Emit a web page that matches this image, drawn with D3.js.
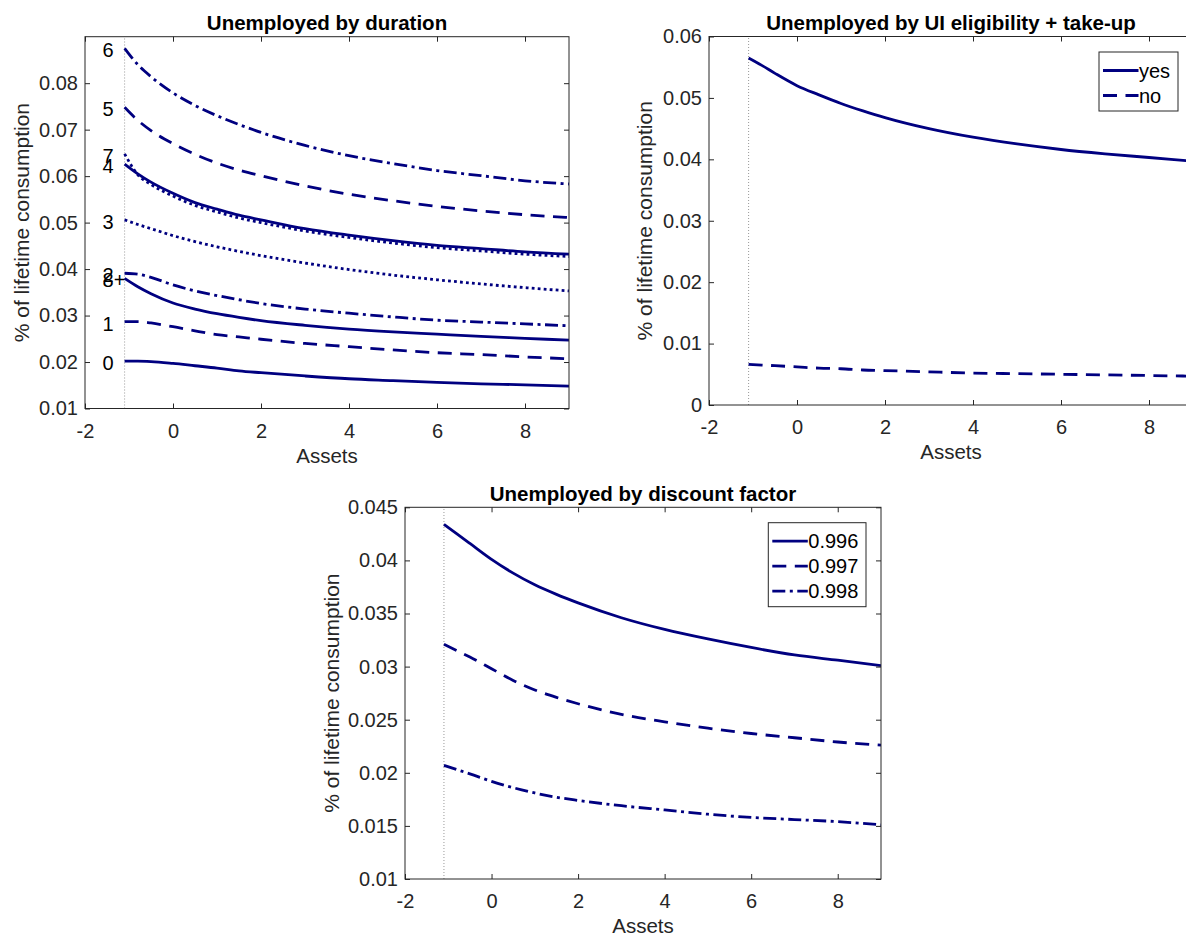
<!DOCTYPE html>
<html><head><meta charset="utf-8">
<script src="https://cdn.jsdelivr.net/npm/d3@7"></script>
<style>
body{margin:0;background:#fff}
svg{display:block}
text{font-family:"Liberation Sans",Arial,Helvetica,sans-serif}
</style>
</head><body>
<svg id="chart" width="1186" height="938"></svg>
<script>
// ---------- data ----------
const assets = [-1.1, -0.8, -0.5, 0, 0.5, 1, 1.5, 2, 3, 4, 5, 6, 7, 8, 9];

const durationLabels = ["0", "1", "2", "3", "4", "5", "6", "7", "8+"];
const dur0  = [0.0202,0.0202,0.0201,0.0197,0.0192,0.0187,0.0181,0.0177,0.0170,0.0164,0.0160,0.0156,0.0153,0.0151,0.0148];
const dur1  = [0.0287,0.0287,0.0284,0.0276,0.0267,0.0259,0.0254,0.0249,0.0240,0.0233,0.0226,0.0220,0.0216,0.0211,0.0207];
const dur2  = [0.0391,0.0389,0.0382,0.0366,0.0353,0.0343,0.0334,0.0326,0.0314,0.0305,0.0297,0.0290,0.0286,0.0282,0.0278];
const dur3  = [0.0506,0.0496,0.0487,0.0472,0.0459,0.0448,0.0438,0.0429,0.0413,0.0399,0.0387,0.0377,0.0368,0.0360,0.0353];
const dur4  = [0.0626,0.0605,0.0587,0.0563,0.0543,0.0529,0.0516,0.0506,0.0487,0.0473,0.0461,0.0451,0.0444,0.0437,0.0432];
const dur5  = [0.0748,0.0720,0.0698,0.0670,0.0647,0.0628,0.0613,0.0601,0.0579,0.0561,0.0547,0.0535,0.0525,0.0517,0.0511];
const dur6  = [0.0875,0.0840,0.0814,0.0779,0.0752,0.0730,0.0711,0.0694,0.0666,0.0644,0.0627,0.0612,0.0601,0.0590,0.0583];
const dur7  = [0.0648,0.0603,0.0582,0.0557,0.0537,0.0523,0.0510,0.0500,0.0482,0.0468,0.0456,0.0446,0.0439,0.0432,0.0427];
const dur8p = [0.0380,0.0362,0.0347,0.0327,0.0314,0.0304,0.0296,0.0289,0.0279,0.0271,0.0265,0.0260,0.0255,0.0251,0.0247];

const uiLabels = ["yes", "no"];
const uiYes = [0.0565,0.0553,0.0540,0.0520,0.0505,0.0491,0.0479,0.0468,0.0450,0.0436,0.0425,0.0416,0.0409,0.0403,0.0397];
const uiNo  = [0.0066,0.0065,0.0064,0.0062,0.0060,0.0059,0.0057,0.0056,0.0054,0.0052,0.0051,0.0050,0.0049,0.0048,0.0047];

const betaLabels = ["0.996", "0.997", "0.998"];
const beta996 = [0.0434,0.0425,0.0416,0.0401,0.0388,0.0377,0.0368,0.0360,0.0346,0.0335,0.0326,0.0318,0.0311,0.0306,0.0301];
const beta997 = [0.0321,0.0315,0.0309,0.0298,0.0287,0.0278,0.0271,0.0265,0.0255,0.0248,0.0242,0.0237,0.0233,0.0229,0.0226];
const beta998 = [0.0207,0.0203,0.0199,0.0192,0.0186,0.0181,0.0177,0.0174,0.0169,0.0165,0.0161,0.0158,0.0156,0.0154,0.0151];

const borrowingLimit = -1.1;
const labelX = -1.6;
const xDomain = [-2, 9];
const xTicks = [-2, 0, 2, 4, 6, 8];
const yTicksDuration = [0.01,0.02,0.03,0.04,0.05,0.06,0.07,0.08];
const yTicksUI = [0,0.01,0.02,0.03,0.04,0.05,0.06];
const yTicksBeta = [0.01,0.015,0.02,0.025,0.03,0.035,0.04,0.045];

// ---------- styles ----------
const NAVY = "#000080";
const AX = "#262626";
const LW = 2.8;
const styles = {
  solid: null,
  dashed: "14,8.5",
  dashdot: "13,4.5,3,4.5",
  dotted: "2.8,3.2"
};
const styleCycle = ["solid","dashed","dashdot","dotted"];
const fmt = d => String(+d.toFixed(3));

const svg = d3.select("#chart");
svg.append("rect").attr("width",1186).attr("height",938).attr("fill","#fff");

function panel(cfg) {
  const x = d3.scaleLinear().domain(xDomain).range([cfg.left, cfg.right]);
  const y = d3.scaleLinear().domain(cfg.yDomain).range([cfg.bottom, cfg.top]);
  const g = svg.append("g");
  const clipId = "clip" + cfg.id;
  svg.append("defs").append("clipPath").attr("id", clipId)
    .append("rect").attr("x", cfg.left).attr("y", cfg.top)
    .attr("width", cfg.right - cfg.left).attr("height", cfg.bottom - cfg.top);

  // borrowing limit line
  g.append("line")
    .attr("x1", x(borrowingLimit)).attr("x2", x(borrowingLimit))
    .attr("y1", cfg.bottom).attr("y2", cfg.top)
    .attr("stroke", "#999").attr("stroke-width", 1).attr("stroke-dasharray", "1,2");

  // series
  const line = d3.line().x((d, i) => x(assets[i])).y(d => y(d)).curve(d3.curveMonotoneX);
  const lg = g.append("g").attr("clip-path", `url(#${clipId})`);
  cfg.series.forEach((s, i) => {
    const st = styleCycle[i % 4];
    lg.append("path").datum(s.values)
      .attr("d", line).attr("fill", "none").attr("stroke", NAVY)
      .attr("stroke-width", LW).attr("stroke-dasharray", styles[st]);
  });

  // axes
  const styleAxis = sel => {
    sel.select(".domain").remove();
    sel.selectAll(".tick line").attr("stroke", AX).attr("stroke-width", 1);
    sel.selectAll(".tick text").attr("fill", AX).attr("font-size", 20)
      .attr("font-family", '"Liberation Sans",Arial,Helvetica,sans-serif');
    sel.attr("font-family", null).attr("font-size", null);
  };
  g.append("g").attr("transform", `translate(0,${cfg.bottom})`)
    .call(d3.axisBottom(x).tickValues(xTicks).tickSize(-5).tickPadding(15).tickFormat(fmt)).call(styleAxis);
  g.append("g").attr("transform", `translate(0,${cfg.top})`)
    .call(d3.axisTop(x).tickValues(xTicks).tickSize(-5).tickFormat("")).call(styleAxis);
  g.append("g").attr("transform", `translate(${cfg.left},0)`)
    .call(d3.axisLeft(y).tickValues(cfg.yTicks).tickSize(-5).tickPadding(7).tickFormat(fmt)).call(styleAxis);
  g.append("g").attr("transform", `translate(${cfg.right},0)`)
    .call(d3.axisRight(y).tickValues(cfg.yTicks).tickSize(-5).tickFormat("")).call(styleAxis);

  g.append("rect").attr("x", cfg.left).attr("y", cfg.top)
    .attr("width", cfg.right - cfg.left).attr("height", cfg.bottom - cfg.top)
    .attr("fill", "none").attr("stroke", AX).attr("stroke-width", 1);

  // labels
  g.append("text").attr("x", (cfg.left + cfg.right) / 2).attr("y", cfg.top - 6.5)
    .attr("text-anchor", "middle").attr("font-size", 20.5).attr("font-weight", "bold")
    .attr("fill", "#000").text(cfg.title);
  g.append("text").attr("x", (cfg.left + cfg.right) / 2).attr("y", cfg.bottom + 47)
    .attr("dy", "0.35em").attr("text-anchor", "middle").attr("font-size", 20.5)
    .attr("fill", AX).text("Assets");
  g.append("text")
    .attr("transform", `translate(${cfg.ylabelX},${(cfg.top + cfg.bottom) / 2}) rotate(-90)`)
    .attr("dy", "0.35em").attr("text-anchor", "middle").attr("font-size", 21)
    .attr("fill", AX).text("% of lifetime consumption");

  // inline labels
  if (cfg.inlineLabels) {
    cfg.series.forEach(s => {
      g.append("text").attr("x", x(labelX)).attr("y", y(s.values[0]) + 2)
        .attr("dy", "0.35em").attr("font-size", 20).attr("fill", "#000").text(s.label);
    });
  }

  // legend
  if (cfg.legend) {
    const L = cfg.legend;
    const n = cfg.series.length;
    const h = 18 + (n - 1) * 25 + 16;
    const lgG = g.append("g");
    lgG.append("rect").attr("x", L.right - L.width).attr("y", L.top)
      .attr("width", L.width).attr("height", h)
      .attr("fill", "#fff").attr("stroke", AX).attr("stroke-width", 1);
    cfg.series.forEach((s, i) => {
      const st = styleCycle[i % 4];
      const yy = L.top + 18.5 + i * 25;
      const x0 = L.right - L.width + 4;
      lgG.append("line").attr("x1", x0).attr("x2", x0 + 35.5).attr("y1", yy).attr("y2", yy)
        .attr("stroke", NAVY).attr("stroke-width", LW).attr("stroke-dasharray", styles[st]);
      lgG.append("text").attr("x", x0 + 36).attr("y", yy).attr("dy", "0.35em")
        .attr("font-size", 20).attr("fill", "#000").text(s.label);
    });
  }
}

const durValues = [dur0, dur1, dur2, dur3, dur4, dur5, dur6, dur7, dur8p];
panel({
  id: 1, left: 85, right: 569, top: 36.7, bottom: 408.5,
  yDomain: [0.01, 0.09], yTicks: yTicksDuration, ylabelX: 22,
  title: "Unemployed by duration",
  series: durationLabels.map((l, i) => ({label: l, values: durValues[i]})),
  inlineLabels: true
});
panel({
  id: 2, left: 709, right: 1193, top: 36.5, bottom: 405,
  yDomain: [0, 0.06], yTicks: yTicksUI, ylabelX: 644.7,
  title: "Unemployed by UI eligibility + take-up",
  series: [{label: uiLabels[0], values: uiYes}, {label: uiLabels[1], values: uiNo}],
  legend: {right: 1178, top: 52, width: 79}
});
panel({
  id: 3, left: 405, right: 881, top: 507.3, bottom: 879,
  yDomain: [0.01, 0.045], yTicks: yTicksBeta, ylabelX: 331.7,
  title: "Unemployed by discount factor",
  series: [{label: betaLabels[0], values: beta996}, {label: betaLabels[1], values: beta997}, {label: betaLabels[2], values: beta998}],
  legend: {right: 866, top: 522.7, width: 97.7}
});
</script>
</body></html>
